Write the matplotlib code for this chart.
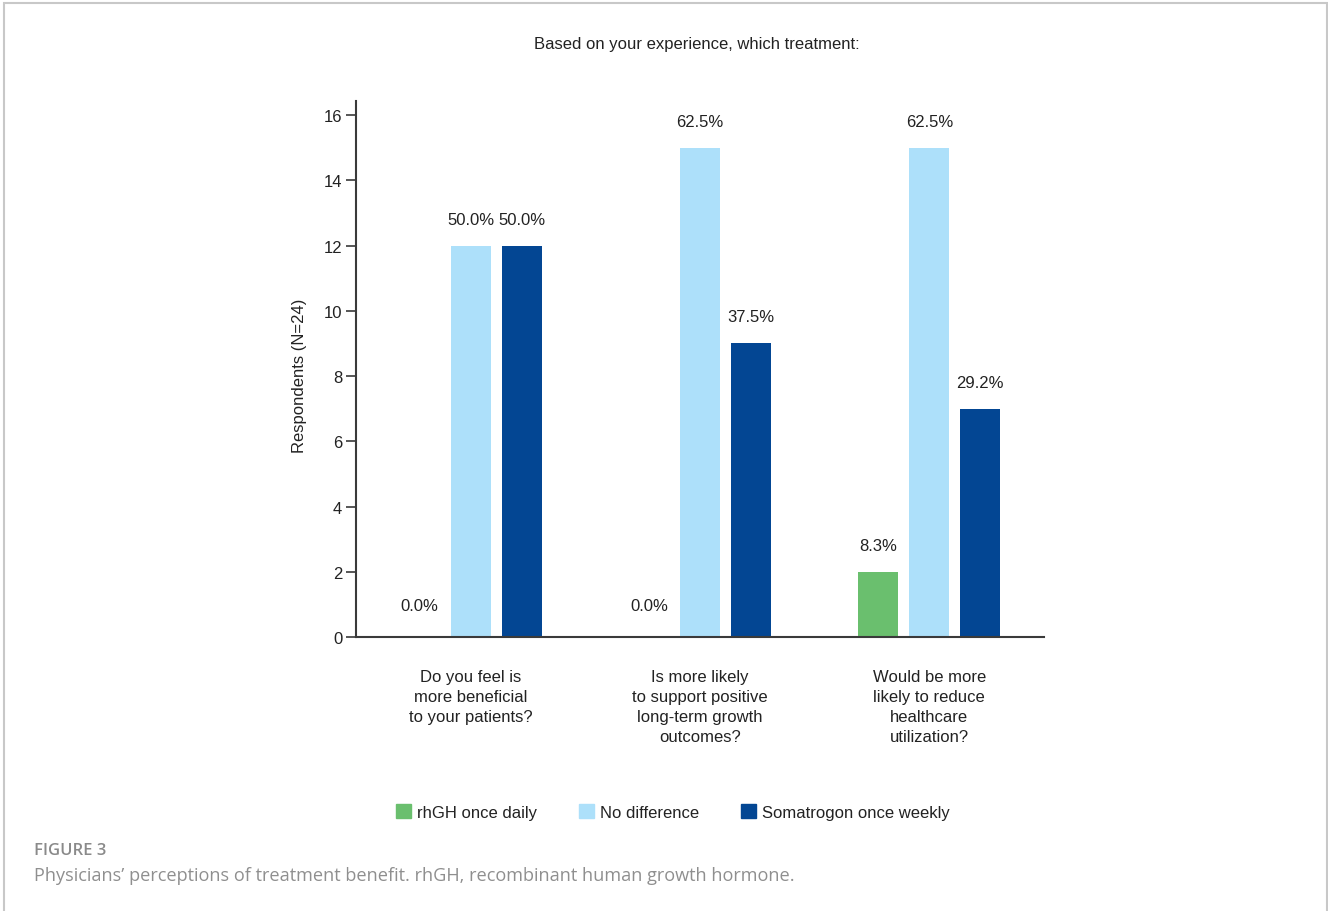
import matplotlib.pyplot as plt
import matplotlib.patches as mpatches
import numpy as np

plt.rcParams['font.family'] = ['Liberation Sans', 'DejaVu Sans']

# Survey responses (N=24), counts per question and answer
questions = [
    "Do you feel is\nmore beneficial\nto your patients?",
    "Is more likely\nto support positive\nlong-term growth\noutcomes?",
    "Would be more\nlikely to reduce\nhealthcare\nutilization?",
]
series_names = ["rhGH once daily", "No difference", "Somatrogon once weekly"]
rhgh_daily = [0, 0, 2]
no_difference = [12, 15, 15]
somatrogon_weekly = [12, 9, 7]
n_respondents = 24
colors = ["#6abf6e", "#ade0fa", "#034693"]

text_color = "#222222"
spine_color = "#3a3a3a"
fs = 12

fig = plt.figure(figsize=(13.28, 9.12), dpi=100)
ax = fig.add_axes([0.2681, 0.3004, 0.518, 0.5878])

x = np.arange(len(questions))
width = 0.174
step = 0.222
all_series = [rhgh_daily, no_difference, somatrogon_weekly]

for i, (vals, color, name) in enumerate(zip(all_series, colors, series_names)):
    pos = x + (i - 1) * step
    ax.bar(pos, vals, width=width, color=color, label=name)
    for px, v in zip(pos, vals):
        pct = 100 * v / n_respondents
        off = 23 if v == 0 else 19
        ax.annotate(f"{pct:.1f}%", (px, v), xytext=(0, off), textcoords="offset points",
                    ha="center", va="center", fontsize=fs, color=text_color)

ax.set_xlim(-0.5, 2.5)
ax.set_ylim(0, 16.43)
ax.set_yticks(np.arange(0, 17, 2))
ax.set_xticks([])
for side in ["top", "right"]:
    ax.spines[side].set_visible(False)
for side in ["left", "bottom"]:
    ax.spines[side].set_color(spine_color)
    ax.spines[side].set_linewidth(1.5)
ax.tick_params(axis="y", direction="out", length=7, width=1.2, color=spine_color,
               labelsize=fs, labelcolor=text_color, pad=3)
ax.set_ylabel("Respondents (N=24)", fontsize=fs, color=text_color, labelpad=12)
ax.yaxis.label.set_y(0.489)

# question labels under each group
for xi, q in zip(x, questions):
    ax.text(xi, -0.0595, q, transform=ax.get_xaxis_transform(), ha="center", va="top",
            fontsize=fs, color=text_color, linespacing=1.42)

fig.text(0.525, 1 - 44 / 912, "Based on your experience, which treatment:",
         ha="center", va="center", fontsize=fs, color=text_color)

handles = [mpatches.Patch(color=c) for c in colors]
fig.legend(handles, series_names, loc="center", bbox_to_anchor=(0.5068, 1 - 813 / 912),
           ncol=3, frameon=False, fontsize=fs, handlelength=0.9, handleheight=0.9,
           handletextpad=0.36, columnspacing=2.5, labelcolor=text_color)

fig.text(34 / 1328, 1 - 851 / 912, "FIGURE 3", ha="left", va="center",
         fontsize=12, weight="semibold", color="#8a8a8a", family=["Open Sans", "DejaVu Sans"])
fig.text(34 / 1328, 1 - 876 / 912,
         "Physicians\u2019 perceptions of treatment benefit. rhGH, recombinant human growth hormone.",
         ha="left", va="center", fontsize=13.1, color="#8f8f8f",
         family=["Open Sans", "DejaVu Sans"])

# light frame around the figure panel
frame = mpatches.Rectangle((4 / 1328, -0.02), 1323 / 1328, 1 - 4 / 912 + 0.02,
                           transform=fig.transFigure, fill=False,
                           edgecolor="#c8c8c8", linewidth=1.5)
fig.add_artist(frame)

fig.savefig("out.png", dpi=100, facecolor="white")
